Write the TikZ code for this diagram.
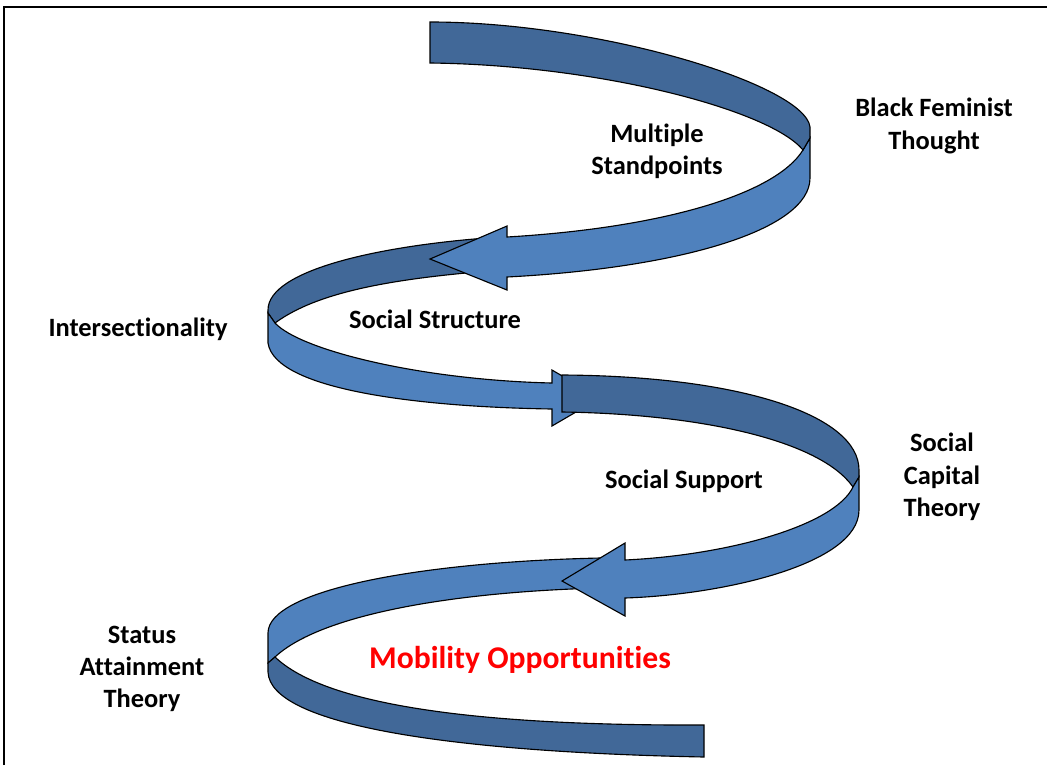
\documentclass[tikz,border=0pt]{standalone}
\usepackage{fontspec}
\setmainfont{Carlito}[Ligatures=NoCommon]
\definecolor{bandtop}{RGB}{65,104,152}
\definecolor{bandfront}{RGB}{79,129,189}
\tikzset{
	darkband/.style={draw=black, line width=0.8pt, fill=bandtop},
	lightband/.style={draw=black, line width=0.8pt, fill=bandfront},
	lbl/.style={font=\fontsize{18.8}{23}\selectfont\bfseries, align=center},
}
\begin{document}
\begin{tikzpicture}[x=0.025cm, y=-0.025cm]
	\useasboundingbox (0,0) rectangle (1047,765);
	\draw[line width=0.9pt] (4,765) -- (4,7) -- (1047,7);
	% second turn, top face (behind first arrow)
	\draw[style=darkband] (500,237) .. controls (380,245) and (268,270) .. (268,310) -- (268,313) -- (275,323) .. controls (320,290) and (400,278) .. (500,270) -- cycle;
	% first turn
	\draw[style=lightband] (810,138) -- (810,178) .. controls (810,230) and (680,268) .. (507,277) -- (507,290) -- (430,259) -- (507,226) -- (507,237) .. controls (660,228) and (775,195) .. (803,150) -- cycle;
	\draw[style=darkband] (430,22) .. controls (600,22) and (805,85) .. (810,127) -- (810,138) -- (803,150) .. controls (770,110) and (600,65) .. (430,63) -- cycle;
	% second turn, front face
	\draw[style=lightband] (268,313) -- (268,343) .. controls (275,390) and (420,407) .. (552,409) -- (552,426) -- (600,398) -- (552,370) -- (552,383) .. controls (420,380) and (300,350) .. (275,323) -- cycle;
	% third turn
	\draw[style=darkband] (562,375) .. controls (740,376) and (859,415) .. (859,470) -- (859,477) -- (853,487) .. controls (820,440) and (700,414) .. (562,412) -- cycle;
	\draw[style=lightband] (600,558) .. controls (420,562) and (268,590) .. (268,633) -- (268,663) -- (275,657) .. controls (320,615) and (450,592) .. (600,588) -- cycle;
	\draw[style=lightband] (859,477) -- (859,510) .. controls (859,565) and (720,595) .. (625,598) -- (625,616) -- (562,581) -- (625,543) -- (625,560) .. controls (730,555) and (835,525) .. (853,487) -- cycle;
	% last turn
	\draw[style=darkband] (268,663) -- (268,672) .. controls (270,725) and (450,752) .. (704,757) -- (704,725) .. controls (450,726) and (320,700) .. (275,657) -- cycle;
	\node[lbl] (ms) at (657,151) {Multiple\\Standpoints};
	\node[lbl] (bft) at (934,126) {Black Feminist\\Thought};
	\node[lbl] (inter) at (138,329) {Intersectionality};
	\node[lbl] (struct) at (435,319) {Social Structure};
	\node[lbl] (supp) at (684,481) {Social Support};
	\node[lbl] (sct) at (942,477) {Social\\Capital\\Theory};
	\node[lbl] (sat) at (142,669) {Status\\Attainment\\Theory};
	\node[lbl, font=\fontsize{22.5}{27}\selectfont\bfseries, text=red] (mob) at (520,660) {Mobility Opportunities};
\end{tikzpicture}
\end{document}
